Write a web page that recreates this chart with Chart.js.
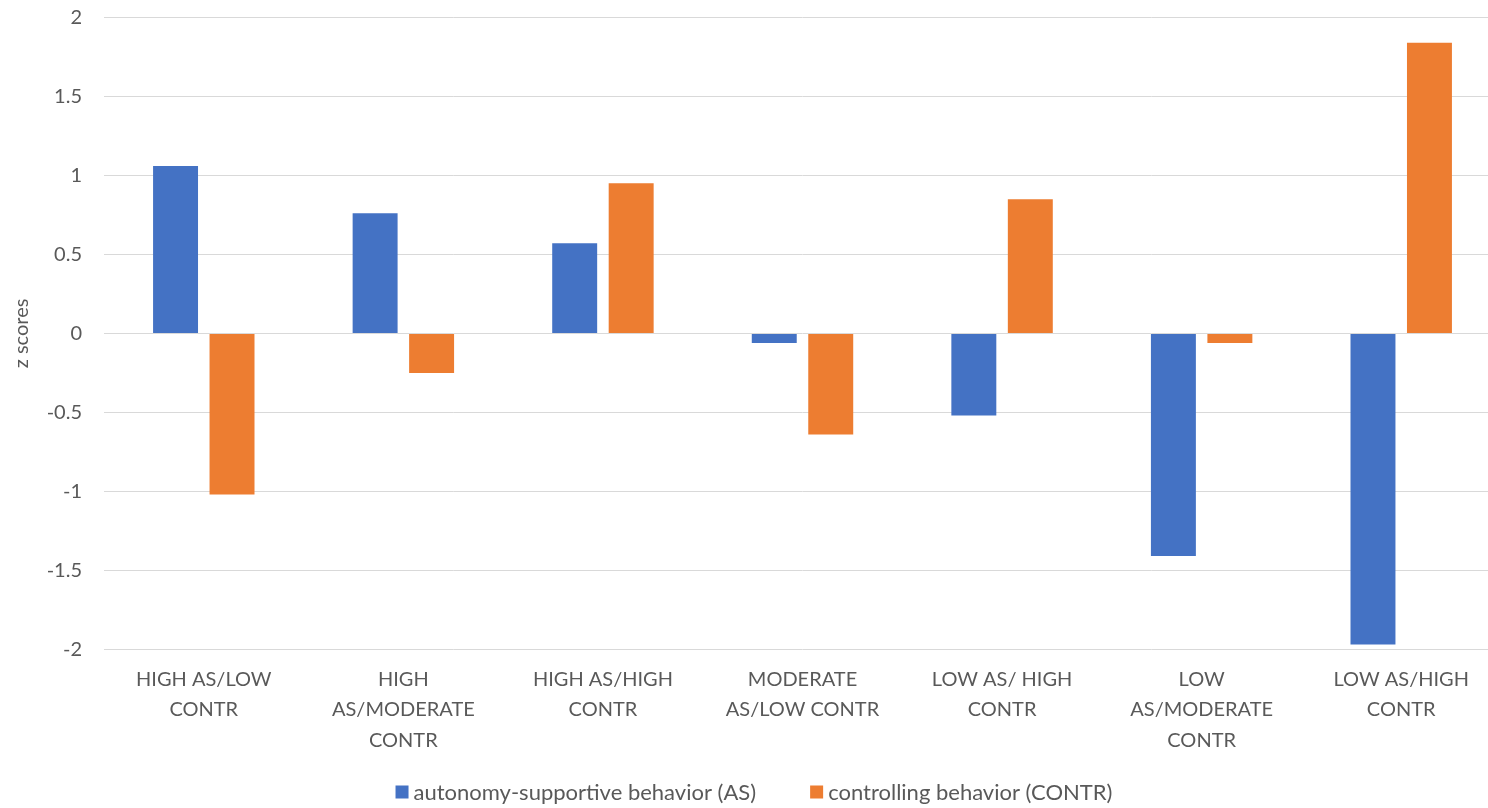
<!DOCTYPE html>
<html>
<head>
<meta charset="utf-8">
<title>z scores by profile</title>
<script src="https://cdn.jsdelivr.net/npm/chart.js@4.4.1/dist/chart.umd.min.js"></script>
<style>
  html, body { margin: 0; padding: 0; background: #ffffff; overflow: hidden; }
  #wrap { position: absolute; left: 0; top: 0; width: 1502px; height: 808px; }
</style>
</head>
<body>
<div id="wrap"><canvas id="chart" width="1502" height="808"></canvas></div>
<script>
// Profile groups (x axis), one entry per group, split into display lines
const categories = [
  ['HIGH AS/LOW', 'CONTR'],
  ['HIGH', 'AS/MODERATE', 'CONTR'],
  ['HIGH AS/HIGH', 'CONTR'],
  ['MODERATE', 'AS/LOW CONTR'],
  ['LOW AS/ HIGH', 'CONTR'],
  ['LOW', 'AS/MODERATE', 'CONTR'],
  ['LOW AS/HIGH', 'CONTR']
];

// Mean z scores per group
const autonomySupportive = [1.06, 0.76, 0.57, -0.06, -0.52, -1.41, -1.97];
const controlling = [-1.02, -0.25, 0.95, -0.64, 0.85, -0.06, 1.84];

// Series names
const seriesNames = ['autonomy-supportive behavior (AS)', 'controlling behavior (CONTR)'];

// Value axis ticks and their labels
const yTicks = [-2, -1.5, -1, -0.5, 0, 0.5, 1, 1.5, 2];
const yTickLabels = ['-2', '-1.5', '-1', '-0.5', '0', '0.5', '1', '1.5', '2'];
const yTitle = 'z scores';

const FONT = 'Lato';
const TEXT = '#595959';
const BLUE = '#4472C4';
const ORANGE = '#ED7D31';

// Legend drawn under the plot: square swatch, small gap, series name
const bottomLegend = {
  id: 'bottomLegend',
  afterDraw(chart) {
    const ctx = chart.ctx;
    const box = 13, gap = 5, itemGap = 54, cy = 792;
    ctx.save();
    ctx.font = '22px ' + FONT;
    ctx.textBaseline = 'middle';
    const items = chart.data.datasets.map(ds => ({
      text: ds.label, color: ds.backgroundColor, w: ctx.measureText(ds.label).width
    }));
    const total = items.reduce((s, it) => s + box + gap + it.w, 0) + itemGap * (items.length - 1);
    let x = 754 - total / 2;
    for (const it of items) {
      ctx.fillStyle = it.color;
      ctx.fillRect(x, cy - box / 2, box, box);
      ctx.fillStyle = TEXT;
      ctx.textAlign = 'left';
      ctx.fillText(it.text, x + box + gap, cy + 1);
      x += box + gap + it.w + itemGap;
    }
    ctx.restore();
  }
};

function draw() {
  new Chart(document.getElementById('chart'), {
    type: 'bar',
    data: {
      labels: categories,
      datasets: [
        { label: seriesNames[0], data: autonomySupportive, backgroundColor: BLUE },
        { label: seriesNames[1], data: controlling, backgroundColor: ORANGE }
      ]
    },
    options: {
      responsive: false,
      animation: false,
      devicePixelRatio: 1,
      layout: { padding: { top: 17.5, right: 1, bottom: 0, left: 0 } },
      datasets: {
        bar: { categoryPercentage: 0.566, barPercentage: 0.796, borderWidth: 0 }
      },
      plugins: {
        legend: { display: false },
        tooltip: { enabled: false }
      },
      scales: {
        x: {
          grid: { display: false, drawTicks: false },
          border: { display: false },
          ticks: {
            color: TEXT,
            font: { family: FONT, size: 20, lineHeight: 1.525 },
            padding: 14.5,
            maxRotation: 0,
            autoSkip: false
          },
          afterFit(scale) {
            scale.height = 158.7;
            scale.paddingLeft = 0;
            scale.paddingRight = 0;
          }
        },
        y: {
          min: -2,
          max: 2,
          afterBuildTicks(scale) { scale.ticks = yTicks.map(v => ({ value: v })); },
          grid: { color: '#D9D9D9', lineWidth: 1, drawTicks: false },
          border: { display: false },
          ticks: {
            color: TEXT,
            font: { family: FONT, size: 20 },
            padding: 22,
            callback(value) {
              const i = yTicks.indexOf(value);
              return i >= 0 ? yTickLabels[i] : String(value);
            }
          },
          title: {
            display: true,
            text: yTitle,
            color: TEXT,
            font: { family: FONT, size: 20 },
            padding: { top: 10, bottom: 0 }
          },
          afterFit(scale) {
            scale.width = 104;
            scale.paddingTop = 0;
            scale.paddingBottom = 0;
          }
        }
      }
    },
    plugins: [bottomLegend]
  });
}

if (document.fonts && document.fonts.load) {
  Promise.all([document.fonts.load('20px ' + FONT), document.fonts.load('22px ' + FONT)])
    .then(draw, draw);
} else {
  draw();
}
</script>
</body>
</html>
